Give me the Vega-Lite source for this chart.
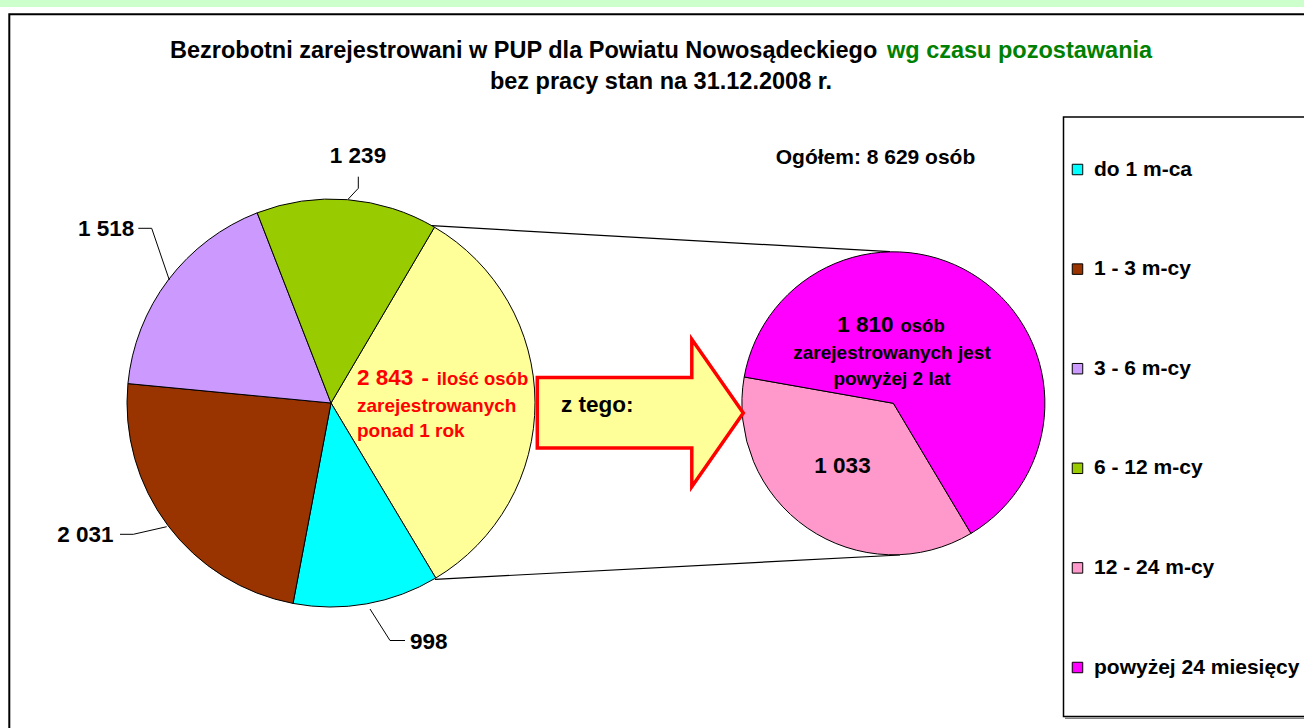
{
  "$schema": "https://vega.github.io/schema/vega-lite/v6.json",
  "width": 1304,
  "height": 728,
  "autosize": "none",
  "padding": 0,
  "background": "white",
  "config": {
    "view": {"stroke": null},
    "locale": {"number": {"decimal": ",", "thousands": " ", "grouping": [3], "currency": ["", " zł"]}},
    "text": {"font": "Liberation Sans", "fontWeight": "bold"}
  },
  "datasets": {
    "glowny": [
      {"kat": "ponad 1 rok", "n": 2843, "o": 1},
      {"kat": "do 1 m-ca", "n": 998, "o": 2},
      {"kat": "1 - 3 m-cy", "n": 2031, "o": 3},
      {"kat": "3 - 6 m-cy", "n": 1518, "o": 4},
      {"kat": "6 - 12 m-cy", "n": 1239, "o": 5}
    ],
    "drugi": [
      {"kat": "12 - 24 m-cy", "n": 1033, "o": 1},
      {"kat": "powyżej 24 miesięcy", "n": 1810, "o": 2}
    ],
    "razem": [{"kat": "Ogółem", "n": 8629}]
  },
  "resolve": {"scale": {"theta": "independent"}},
  "layer": [
    {
      "data": {"name": "razem"},
      "mark": {"type": "rect", "fill": "#CCFFCC"},
      "encoding": {
        "x": {"datum": 0, "type": "quantitative", "scale": {"domain": [0, 1304], "nice": false, "zero": false}, "axis": null},
        "x2": {"datum": 1304},
        "y": {"datum": 0, "type": "quantitative", "scale": {"domain": [728, 0], "nice": false, "zero": false}, "axis": null},
        "y2": {"datum": 7}
      }
    },
    {
      "data": {"name": "razem"},
      "mark": {"type": "rect", "fill": null, "fillOpacity": 0, "stroke": "black", "strokeWidth": 2, "clip": true},
      "encoding": {
        "x": {"datum": 9.3, "type": "quantitative", "axis": null},
        "x2": {"datum": 1330},
        "y": {"datum": 14.3, "type": "quantitative", "axis": null},
        "y2": {"datum": 760}
      }
    },
    {
      "data": {"name": "razem"},
      "mark": {"type": "text", "align": "left", "baseline": "alphabetic", "fontSize": 23.5, "fill": "black", "text": "Bezrobotni zarejestrowani w PUP dla Powiatu Nowosądeckiego"},
      "encoding": {
        "x": {"datum": 170, "type": "quantitative", "axis": null},
        "y": {"datum": 58, "type": "quantitative", "axis": null}
      }
    },
    {
      "data": {"name": "razem"},
      "mark": {"type": "text", "align": "left", "baseline": "alphabetic", "fontSize": 23.5, "fill": "#008000", "text": "wg czasu pozostawania"},
      "encoding": {
        "x": {"datum": 887, "type": "quantitative", "axis": null},
        "y": {"datum": 58, "type": "quantitative", "axis": null}
      }
    },
    {
      "data": {"name": "razem"},
      "mark": {"type": "text", "align": "center", "baseline": "alphabetic", "fontSize": 23.5, "fill": "black", "text": "bez pracy stan na 31.12.2008 r."},
      "encoding": {
        "x": {"datum": 661, "type": "quantitative", "axis": null},
        "y": {"datum": 89, "type": "quantitative", "axis": null}
      }
    },
    {
      "data": {"name": "razem"},
      "mark": {"type": "text", "align": "center", "baseline": "alphabetic", "fontSize": 21, "fill": "black", "text": "Ogółem: 8 629 osób"},
      "encoding": {
        "x": {"datum": 875.5, "type": "quantitative", "axis": null},
        "y": {"datum": 164, "type": "quantitative", "axis": null}
      }
    },
    {
      "data": {"name": "razem"},
      "mark": {"type": "rule", "stroke": "black", "strokeWidth": 1.2},
      "encoding": {
        "x": {"datum": 431.7, "type": "quantitative", "axis": null},
        "y": {"datum": 225.7, "type": "quantitative", "axis": null},
        "x2": {"datum": 890},
        "y2": {"datum": 251.7}
      }
    },
    {
      "data": {"name": "razem"},
      "mark": {"type": "rule", "stroke": "black", "strokeWidth": 1.2},
      "encoding": {
        "x": {"datum": 435, "type": "quantitative", "axis": null},
        "y": {"datum": 579.3, "type": "quantitative", "axis": null},
        "x2": {"datum": 900},
        "y2": {"datum": 555}
      }
    },
    {
      "data": {"name": "glowny"},
      "mark": {"type": "arc", "radius": 204, "stroke": "black", "strokeWidth": 1},
      "encoding": {
        "x": {"datum": 331, "type": "quantitative", "axis": null},
        "y": {"datum": 403, "type": "quantitative", "axis": null},
        "theta": {"field": "n", "type": "quantitative", "stack": true, "scale": {"range": [0.532, 6.8152]}},
        "order": {"field": "o", "type": "quantitative"},
        "color": {
          "field": "kat",
          "type": "nominal",
          "scale": {
            "domain": ["do 1 m-ca", "1 - 3 m-cy", "3 - 6 m-cy", "6 - 12 m-cy", "12 - 24 m-cy", "powyżej 24 miesięcy", "ponad 1 rok"],
            "range": ["#00FFFF", "#993300", "#CC99FF", "#99CC00", "#FF99CC", "#FF00FF", "#FFFF99"]
          },
          "legend": {
            "values": ["do 1 m-ca", "1 - 3 m-cy", "3 - 6 m-cy", "6 - 12 m-cy", "12 - 24 m-cy", "powyżej 24 miesięcy"],
            "orient": "none",
            "legendX": 1067,
            "legendY": 159,
            "title": null,
            "padding": 0,
            "symbolType": "square",
            "symbolSize": 110,
            "symbolStrokeColor": "black",
            "symbolStrokeWidth": 1,
            "symbolOpacity": 1,
            "labelFont": "Liberation Sans",
            "labelFontWeight": "bold",
            "labelFontSize": 21,
            "labelColor": "black",
            "labelOffset": 6,
            "labelLimit": 500,
            "rowPadding": 77.6
          }
        }
      }
    },
    {
      "data": {"name": "drugi"},
      "mark": {"type": "arc", "radius": 151.5, "stroke": "black", "strokeWidth": 1},
      "encoding": {
        "x": {"datum": 893.4, "type": "quantitative", "axis": null},
        "y": {"datum": 403.3, "type": "quantitative", "axis": null},
        "theta": {"field": "n", "type": "quantitative", "stack": true, "scale": {"range": [2.604, 8.8872]}},
        "order": {"field": "o", "type": "quantitative"},
        "color": {"field": "kat", "type": "nominal"}
      }
    },
    {
      "data": {"name": "razem"},
      "mark": {"type": "point", "shape": "M-1,-0.345L0.5,-0.345L0.5,-0.715L1,0L0.5,0.715L0.5,0.34L-1,0.34Z", "size": 42436, "filled": true, "fill": "#FFFF99", "stroke": "#FF0000", "strokeWidth": 3.5, "opacity": 1, "fillOpacity": 1, "strokeOpacity": 1},
      "encoding": {
        "x": {"datum": 640.3, "type": "quantitative", "axis": null},
        "y": {"datum": 413, "type": "quantitative", "axis": null}
      }
    },
    {
      "data": {"name": "razem"},
      "mark": {"type": "text", "align": "left", "baseline": "alphabetic", "fontSize": 22.5, "fill": "black", "text": "z tego:"},
      "encoding": {
        "x": {"datum": 561, "type": "quantitative", "axis": null},
        "y": {"datum": 412, "type": "quantitative", "axis": null}
      }
    },
    {
      "data": {"name": "glowny"},
      "transform": [{"filter": "datum.kat === 'ponad 1 rok'"}],
      "mark": {"type": "text", "align": "left", "baseline": "alphabetic", "fontSize": 22.5, "fill": "#FF0000"},
      "encoding": {
        "x": {"datum": 357, "type": "quantitative", "axis": null},
        "y": {"datum": 385, "type": "quantitative", "axis": null},
        "text": {"field": "n", "type": "quantitative", "format": ",d"}
      }
    },
    {
      "data": {"name": "razem"},
      "mark": {"type": "text", "align": "left", "baseline": "alphabetic", "fontSize": 22.5, "fill": "#FF0000", "text": "-"},
      "encoding": {
        "x": {"datum": 421.5, "type": "quantitative", "axis": null},
        "y": {"datum": 385, "type": "quantitative", "axis": null}
      }
    },
    {
      "data": {"name": "razem"},
      "mark": {"type": "text", "align": "left", "baseline": "alphabetic", "fontSize": 18.5, "fill": "#FF0000", "text": "ilość osób"},
      "encoding": {
        "x": {"datum": 436.7, "type": "quantitative", "axis": null},
        "y": {"datum": 385, "type": "quantitative", "axis": null}
      }
    },
    {
      "data": {"name": "razem"},
      "mark": {"type": "text", "align": "left", "baseline": "alphabetic", "fontSize": 19, "fill": "#FF0000", "text": "zarejestrowanych"},
      "encoding": {
        "x": {"datum": 357, "type": "quantitative", "axis": null},
        "y": {"datum": 411.5, "type": "quantitative", "axis": null}
      }
    },
    {
      "data": {"name": "razem"},
      "mark": {"type": "text", "align": "left", "baseline": "alphabetic", "fontSize": 19, "fill": "#FF0000", "text": "ponad 1 rok"},
      "encoding": {
        "x": {"datum": 357, "type": "quantitative", "axis": null},
        "y": {"datum": 436.5, "type": "quantitative", "axis": null}
      }
    },
    {
      "data": {"name": "drugi"},
      "transform": [{"filter": "datum.kat === 'powyżej 24 miesięcy'"}],
      "mark": {"type": "text", "align": "left", "baseline": "alphabetic", "fontSize": 22.5, "fill": "black"},
      "encoding": {
        "x": {"datum": 837.3, "type": "quantitative", "axis": null},
        "y": {"datum": 331.7, "type": "quantitative", "axis": null},
        "text": {"field": "n", "type": "quantitative", "format": ",d"}
      }
    },
    {
      "data": {"name": "razem"},
      "mark": {"type": "text", "align": "left", "baseline": "alphabetic", "fontSize": 18.5, "fill": "black", "text": "osób"},
      "encoding": {
        "x": {"datum": 900.5, "type": "quantitative", "axis": null},
        "y": {"datum": 331.7, "type": "quantitative", "axis": null}
      }
    },
    {
      "data": {"name": "razem"},
      "mark": {"type": "text", "align": "center", "baseline": "alphabetic", "fontSize": 19, "fill": "black", "text": "zarejestrowanych jest"},
      "encoding": {
        "x": {"datum": 892, "type": "quantitative", "axis": null},
        "y": {"datum": 359, "type": "quantitative", "axis": null}
      }
    },
    {
      "data": {"name": "razem"},
      "mark": {"type": "text", "align": "center", "baseline": "alphabetic", "fontSize": 19, "fill": "black", "text": "powyżej 2 lat"},
      "encoding": {
        "x": {"datum": 892, "type": "quantitative", "axis": null},
        "y": {"datum": 385, "type": "quantitative", "axis": null}
      }
    },
    {
      "data": {"name": "drugi"},
      "transform": [{"filter": "datum.kat === '12 - 24 m-cy'"}],
      "mark": {"type": "text", "align": "center", "baseline": "alphabetic", "fontSize": 22.5, "fill": "black"},
      "encoding": {
        "x": {"datum": 842.5, "type": "quantitative", "axis": null},
        "y": {"datum": 473.3, "type": "quantitative", "axis": null},
        "text": {"field": "n", "type": "quantitative", "format": ",d"}
      }
    },
    {
      "data": {"name": "glowny"},
      "transform": [{"filter": "datum.kat === '6 - 12 m-cy'"}],
      "mark": {"type": "text", "align": "center", "baseline": "alphabetic", "fontSize": 22.5, "fill": "black"},
      "encoding": {
        "x": {"datum": 358, "type": "quantitative", "axis": null},
        "y": {"datum": 162.7, "type": "quantitative", "axis": null},
        "text": {"field": "n", "type": "quantitative", "format": ",d"}
      }
    },
    {
      "data": {"name": "glowny"},
      "transform": [{"filter": "datum.kat === '3 - 6 m-cy'"}],
      "mark": {"type": "text", "align": "right", "baseline": "alphabetic", "fontSize": 22.5, "fill": "black"},
      "encoding": {
        "x": {"datum": 134.3, "type": "quantitative", "axis": null},
        "y": {"datum": 236, "type": "quantitative", "axis": null},
        "text": {"field": "n", "type": "quantitative", "format": ",d"}
      }
    },
    {
      "data": {"name": "glowny"},
      "transform": [{"filter": "datum.kat === '1 - 3 m-cy'"}],
      "mark": {"type": "text", "align": "right", "baseline": "alphabetic", "fontSize": 22.5, "fill": "black"},
      "encoding": {
        "x": {"datum": 113.5, "type": "quantitative", "axis": null},
        "y": {"datum": 542.3, "type": "quantitative", "axis": null},
        "text": {"field": "n", "type": "quantitative", "format": ",d"}
      }
    },
    {
      "data": {"name": "glowny"},
      "transform": [{"filter": "datum.kat === 'do 1 m-ca'"}],
      "mark": {"type": "text", "align": "left", "baseline": "alphabetic", "fontSize": 22.5, "fill": "black"},
      "encoding": {
        "x": {"datum": 410, "type": "quantitative", "axis": null},
        "y": {"datum": 649, "type": "quantitative", "axis": null},
        "text": {"field": "n", "type": "quantitative", "format": ",d"}
      }
    },
    {
      "data": {"name": "razem"},
      "mark": {"type": "rule", "stroke": "black", "strokeWidth": 1},
      "encoding": {
        "x": {"datum": 358.3, "type": "quantitative", "axis": null},
        "y": {"datum": 176.7, "type": "quantitative", "axis": null},
        "x2": {"datum": 358.3},
        "y2": {"datum": 188.3}
      }
    },
    {
      "data": {"name": "razem"},
      "mark": {"type": "rule", "stroke": "black", "strokeWidth": 1},
      "encoding": {
        "x": {"datum": 358.3, "type": "quantitative", "axis": null},
        "y": {"datum": 188.3, "type": "quantitative", "axis": null},
        "x2": {"datum": 348.3},
        "y2": {"datum": 199}
      }
    },
    {
      "data": {"name": "razem"},
      "mark": {"type": "rule", "stroke": "black", "strokeWidth": 1},
      "encoding": {
        "x": {"datum": 138.3, "type": "quantitative", "axis": null},
        "y": {"datum": 228.3, "type": "quantitative", "axis": null},
        "x2": {"datum": 151.7},
        "y2": {"datum": 228.3}
      }
    },
    {
      "data": {"name": "razem"},
      "mark": {"type": "rule", "stroke": "black", "strokeWidth": 1},
      "encoding": {
        "x": {"datum": 151.7, "type": "quantitative", "axis": null},
        "y": {"datum": 228.3, "type": "quantitative", "axis": null},
        "x2": {"datum": 169.3},
        "y2": {"datum": 280}
      }
    },
    {
      "data": {"name": "razem"},
      "mark": {"type": "rule", "stroke": "black", "strokeWidth": 1},
      "encoding": {
        "x": {"datum": 120, "type": "quantitative", "axis": null},
        "y": {"datum": 534.3, "type": "quantitative", "axis": null},
        "x2": {"datum": 133.3},
        "y2": {"datum": 534.3}
      }
    },
    {
      "data": {"name": "razem"},
      "mark": {"type": "rule", "stroke": "black", "strokeWidth": 1},
      "encoding": {
        "x": {"datum": 133.3, "type": "quantitative", "axis": null},
        "y": {"datum": 534.3, "type": "quantitative", "axis": null},
        "x2": {"datum": 166.7},
        "y2": {"datum": 526.7}
      }
    },
    {
      "data": {"name": "razem"},
      "mark": {"type": "rule", "stroke": "black", "strokeWidth": 1},
      "encoding": {
        "x": {"datum": 370, "type": "quantitative", "axis": null},
        "y": {"datum": 609, "type": "quantitative", "axis": null},
        "x2": {"datum": 390},
        "y2": {"datum": 640.5}
      }
    },
    {
      "data": {"name": "razem"},
      "mark": {"type": "rule", "stroke": "black", "strokeWidth": 1},
      "encoding": {
        "x": {"datum": 390, "type": "quantitative", "axis": null},
        "y": {"datum": 640.5, "type": "quantitative", "axis": null},
        "x2": {"datum": 405},
        "y2": {"datum": 640.5}
      }
    },
    {
      "data": {"name": "razem"},
      "mark": {"type": "rect", "fill": null, "fillOpacity": 0, "stroke": "black", "strokeWidth": 1.5, "clip": true},
      "encoding": {
        "x": {"datum": 1063.5, "type": "quantitative", "axis": null},
        "x2": {"datum": 1400},
        "y": {"datum": 117, "type": "quantitative", "axis": null},
        "y2": {"datum": 716.5}
      }
    },
    {
      "data": {"name": "razem"},
      "mark": {"type": "rule", "stroke": "#808080", "strokeWidth": 1.5},
      "encoding": {
        "x": {"datum": 1065, "type": "quantitative", "axis": null},
        "y": {"datum": 718.3, "type": "quantitative", "axis": null},
        "x2": {"datum": 1304},
        "y2": {"datum": 718.3}
      }
    }
  ]
}
